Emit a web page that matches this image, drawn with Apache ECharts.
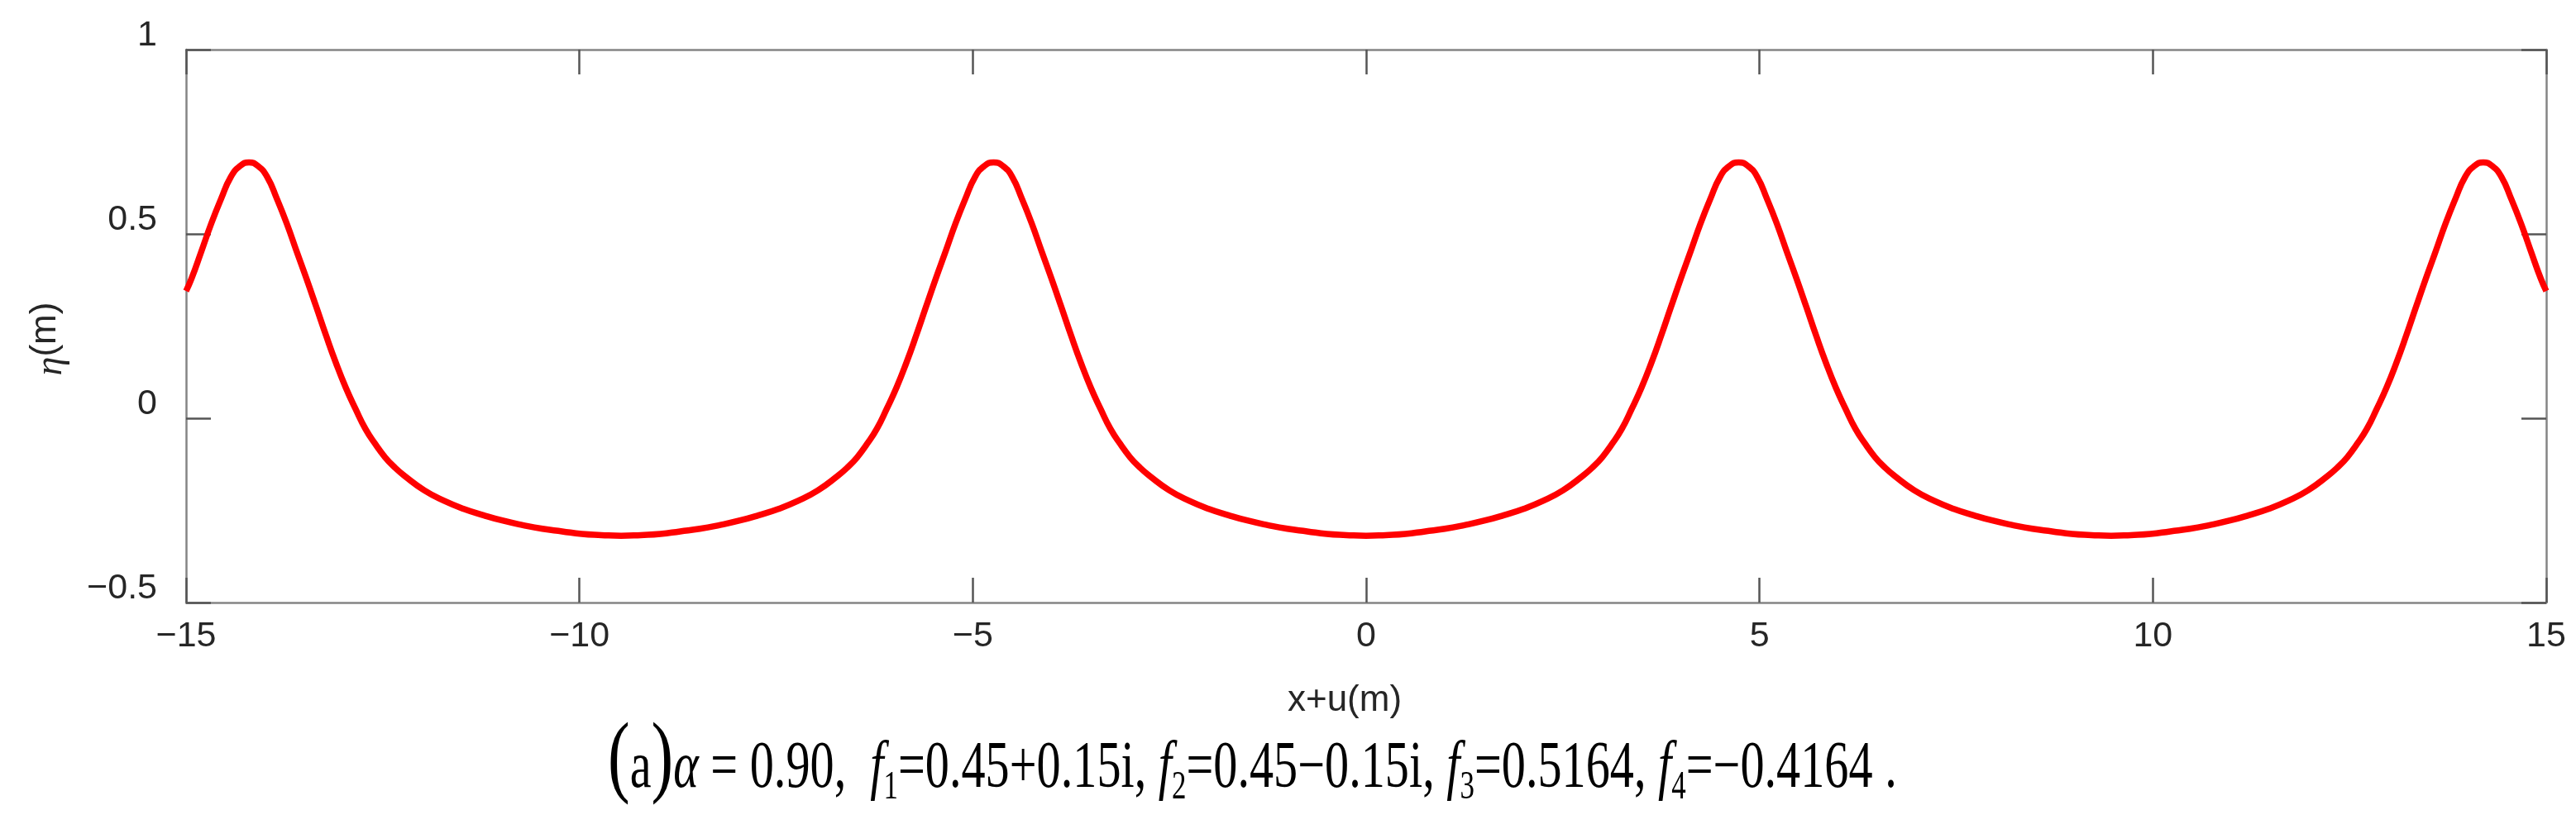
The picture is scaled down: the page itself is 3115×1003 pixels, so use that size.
<!DOCTYPE html>
<html>
<head>
<meta charset="utf-8">
<script src="https://cdn.jsdelivr.net/npm/echarts@6/dist/echarts.min.js"></script>
<style>
  html, body { margin: 0; padding: 0; background: #fff; }
  #main { width: 3115px; height: 1003px; }
</style>
</head>
<body>
<div id="main"></div>
<script>
// values: x+u (m) and eta (m), left to right
var xs = [
    -15, -14.93, -14.805, -14.68, -14.555, -14.43, -14.315, -14.2, -14.085, -13.97,
    -13.845, -13.72, -13.595, -13.47, -13.345, -13.22, -13.095, -12.97, -12.845, -12.72,
    -12.595, -12.47, -12.345, -12.22, -11.97, -11.72, -11.47, -11.22, -10.97, -10.72,
    -10.47, -10.22, -9.97, -9.72, -9.47, -9.22, -8.97, -8.72, -8.47, -8.22,
    -7.97, -7.72, -7.47, -7.22, -6.97, -6.72, -6.595, -6.47, -6.345, -6.22,
    -6.095, -5.97, -5.845, -5.72, -5.595, -5.47, -5.345, -5.22, -5.095, -4.97,
    -4.855, -4.735, -4.615, -4.5, -4.375, -4.25, -4.125, -4.0, -3.875, -3.75,
    -3.625, -3.5, -3.375, -3.25, -3.125, -3.0, -2.875, -2.75, -2.5, -2.25,
    -2.0, -1.75, -1.5, -1.25, -1.0, -0.75, -0.5, -0.25,
    0,
    0.25, 0.5, 0.75, 1.0, 1.25, 1.5, 1.75, 2.0, 2.25, 2.5,
    2.75, 2.875, 3.0, 3.125, 3.25, 3.375, 3.5, 3.625, 3.75, 3.875,
    4.0, 4.125, 4.25, 4.375, 4.5, 4.615, 4.735, 4.855, 4.97, 5.095,
    5.22, 5.345, 5.47, 5.595, 5.72, 5.845, 5.97, 6.095, 6.22, 6.345,
    6.47, 6.595, 6.72, 6.97, 7.22, 7.47, 7.72, 7.97, 8.22, 8.47,
    8.72, 8.97, 9.22, 9.47, 9.72, 9.97, 10.22, 10.47, 10.72, 10.97,
    11.22, 11.47, 11.72, 11.97, 12.22, 12.345, 12.47, 12.595, 12.72, 12.845,
    12.97, 13.095, 13.22, 13.345, 13.47, 13.595, 13.72, 13.845, 13.97, 14.085,
    14.2, 14.315, 14.43, 14.555, 14.68, 14.805, 14.93, 15
];
var etas = [
    0.345, 0.379, 0.453, 0.528, 0.595, 0.655, 0.684, 0.694, 0.684, 0.655,
    0.595, 0.528, 0.453, 0.379, 0.302, 0.224, 0.150, 0.083, 0.025, -0.029,
    -0.070, -0.106, -0.134, -0.157, -0.196, -0.224, -0.246, -0.263, -0.278, -0.290,
    -0.300, -0.307, -0.314, -0.317, -0.319, -0.317, -0.314, -0.307, -0.300, -0.290,
    -0.278, -0.263, -0.246, -0.224, -0.196, -0.157, -0.134, -0.106, -0.070, -0.029,
    0.025, 0.083, 0.150, 0.224, 0.302, 0.379, 0.453, 0.528, 0.595, 0.655,
    0.684, 0.694, 0.684, 0.655, 0.595, 0.528, 0.453, 0.379, 0.302, 0.224,
    0.150, 0.083, 0.025, -0.029, -0.070, -0.106, -0.134, -0.157, -0.196, -0.224,
    -0.246, -0.263, -0.278, -0.290, -0.300, -0.307, -0.314, -0.317,
    -0.319,
    -0.317, -0.314, -0.307, -0.300, -0.290, -0.278, -0.263, -0.246, -0.224, -0.196,
    -0.157, -0.134, -0.106, -0.070, -0.029, 0.025, 0.083, 0.150, 0.224, 0.302,
    0.379, 0.453, 0.528, 0.595, 0.655, 0.684, 0.694, 0.684, 0.655, 0.595,
    0.528, 0.453, 0.379, 0.302, 0.224, 0.150, 0.083, 0.025, -0.029, -0.070,
    -0.106, -0.134, -0.157, -0.196, -0.224, -0.246, -0.263, -0.278, -0.290, -0.300,
    -0.307, -0.314, -0.317, -0.319, -0.317, -0.314, -0.307, -0.300, -0.290, -0.278,
    -0.263, -0.246, -0.224, -0.196, -0.157, -0.134, -0.106, -0.070, -0.029, 0.025,
    0.083, 0.150, 0.224, 0.302, 0.379, 0.453, 0.528, 0.595, 0.655, 0.684,
    0.694, 0.684, 0.655, 0.595, 0.528, 0.453, 0.379, 0.345
];
var xTicks = [-15, -10, -5, 0, 5, 10, 15];
var yTicks = [-0.5, 0, 0.5, 1];

var axisGray = '#858585';
var tickGray = '#555555';
var labelColor = '#262626';

function minusSign(v) {
    return String(v).replace('-', '\u2212');
}

var points = [];
for (var i = 0; i < xs.length; i++) {
    points.push([xs[i], etas[i]]);
}

var myChart = echarts.init(document.getElementById('main'));

var option = {
    backgroundColor: '#ffffff',
    animation: false,
    grid: {
        left: 225,
        right: 36,
        top: 60,
        bottom: 274
    },
    xAxis: [
        {
            type: 'value',
            position: 'bottom',
            min: xTicks[0],
            max: xTicks[xTicks.length - 1],
            interval: 5,
            axisLine: { show: true, onZero: false, lineStyle: { color: axisGray, width: 2.5 } },
            axisTick: { show: true, inside: true, length: 30, lineStyle: { color: tickGray, width: 2.5 } },
            axisLabel: {
                margin: 20,
                fontSize: 43,
                fontFamily: 'Liberation Sans',
                color: labelColor,
                formatter: minusSign
            },
            splitLine: { show: false }
        },
        {
            type: 'value',
            position: 'top',
            min: xTicks[0],
            max: xTicks[xTicks.length - 1],
            interval: 5,
            axisLine: { show: true, onZero: false, lineStyle: { color: axisGray, width: 2.5 } },
            axisTick: { show: true, inside: true, length: 30, lineStyle: { color: tickGray, width: 2.5 } },
            axisLabel: { show: false },
            splitLine: { show: false }
        }
    ],
    yAxis: [
        {
            type: 'value',
            position: 'left',
            min: yTicks[0],
            max: yTicks[yTicks.length - 1],
            interval: 0.5,
            axisLine: { show: true, onZero: false, lineStyle: { color: axisGray, width: 2.5 } },
            axisTick: { show: true, inside: true, length: 30, lineStyle: { color: tickGray, width: 2.5 } },
            axisLabel: {
                margin: 35,
                fontSize: 43,
                fontFamily: 'Liberation Sans',
                color: labelColor,
                verticalAlign: 'bottom',
                lineHeight: 34,
                formatter: minusSign
            },
            splitLine: { show: false }
        },
        {
            type: 'value',
            position: 'right',
            min: yTicks[0],
            max: yTicks[yTicks.length - 1],
            interval: 0.5,
            axisLine: { show: true, onZero: false, lineStyle: { color: axisGray, width: 2.5 } },
            axisTick: { show: true, inside: true, length: 30, lineStyle: { color: tickGray, width: 2.5 } },
            axisLabel: { show: false },
            splitLine: { show: false }
        }
    ],
    series: [
        {
            name: 'eta',
            type: 'line',
            xAxisIndex: 0,
            yAxisIndex: 0,
            data: points,
            showSymbol: false,
            smooth: 0.5,
            clip: true,
            lineStyle: { color: '#ff0000', width: 7.5 }
        }
    ],
    graphic: [
        {
            // x axis title
            type: 'text',
            x: 1626,
            y: 848,
            style: {
                text: 'x+u(m)',
                fontSize: 44,
                fontFamily: 'Liberation Sans',
                fill: labelColor,
                align: 'center',
                verticalAlign: 'middle'
            }
        },
        {
            // y axis title, rotated
            type: 'text',
            x: 55,
            y: 410,
            rotation: Math.PI / 2,
            style: {
                text: '{g|\u03b7}{n|(m)}',
                fill: labelColor,
                align: 'center',
                verticalAlign: 'middle',
                rich: {
                    g: { fontSize: 46, fontFamily: 'Liberation Serif', fontStyle: 'italic', fill: labelColor, verticalAlign: 'middle', padding: [14, 0, 0, 0] },
                    n: { fontSize: 44, fontFamily: 'Liberation Sans', fill: labelColor, verticalAlign: 'middle' }
                }
            }
        },
        {
            // caption under the chart
            type: 'text',
            x: 735,
            y: 866,
            scaleX: 0.728,
            style: {
                text: '{p|(}{t|a}{p|)}{i|\u03b1}{t| = 0.90,  }{i|f}{s|1}{t|=0.45+0.15i, }{i|f}{s|2}{t|=0.45\u22120.15i, }{i|f}{s|3}{t|=0.5164, }{i|f}{s|4}{t|=\u22120.4164 .}',
                align: 'left',
                verticalAlign: 'top',
                fill: '#000',
                rich: {
                    p: { fontSize: 110, fontFamily: 'Liberation Serif', fill: '#000', verticalAlign: 'middle', padding: [0, 0, 20, 0] },
                    t: { fontSize: 80, fontFamily: 'Liberation Serif', fill: '#000', verticalAlign: 'middle' },
                    i: { fontSize: 80, fontFamily: 'Liberation Serif', fontStyle: 'italic', fill: '#000', verticalAlign: 'middle' },
                    s: { fontSize: 48, fontFamily: 'Liberation Serif', fill: '#000', verticalAlign: 'middle', padding: [44, 0, 0, 0] }
                }
            }
        }
    ]
};

myChart.setOption(option);
</script>
</body>
</html>
